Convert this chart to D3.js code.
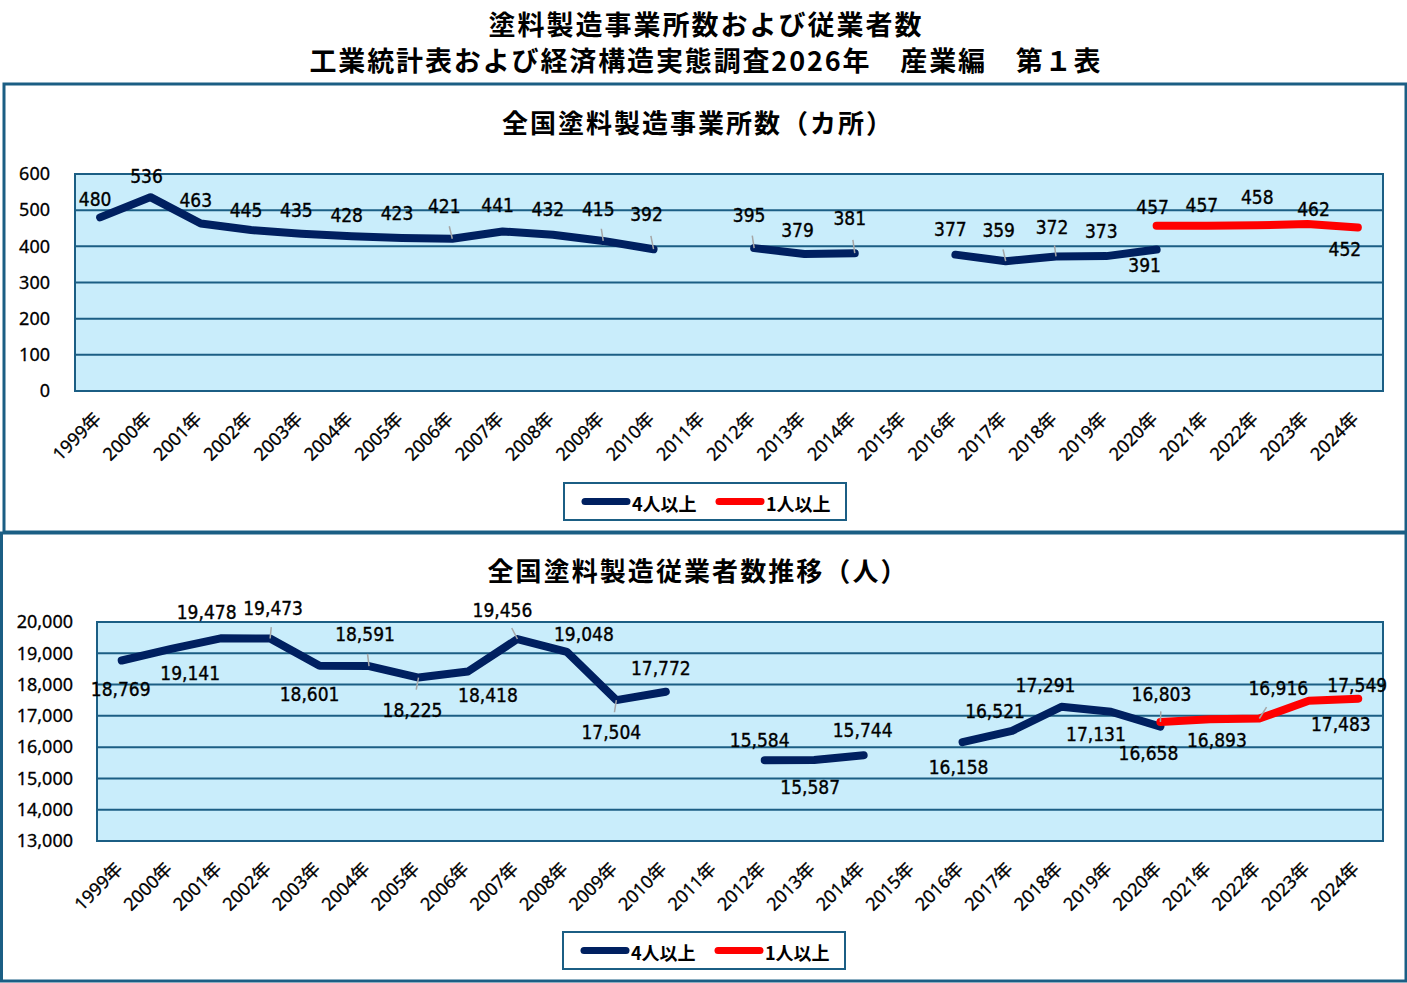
<!DOCTYPE html>
<html><head><meta charset="utf-8">
<script src="https://cdn.jsdelivr.net/npm/d3@7"></script>
<style>
body{margin:0;background:#fff;}
svg{display:block;}
.lbl{font-family:"Liberation Sans Narrow","Arial Narrow","DejaVu Sans Condensed",sans-serif;font-size:19px;fill:#000;stroke:#000;stroke-width:0.35px;}
.tick{font-family:"Noto Sans","Noto Sans CJK JP",sans-serif;fill:#000;}
.ttl{font-family:"Noto Sans CJK JP",sans-serif;font-weight:700;fill:#000;}
</style></head>
<body><svg id="c" width="1407" height="983"></svg>
<script>
// ---- data ----
const years = ["1999年","2000年","2001年","2002年","2003年","2004年","2005年","2006年","2007年","2008年","2009年","2010年","2011年","2012年","2013年","2014年","2015年","2016年","2017年","2018年","2019年","2020年","2021年","2022年","2023年","2024年"];
const seriesNames = ["4人以上","1人以上"];
const estab4 = [480,536,463,445,435,428,423,421,441,432,415,392,null,395,379,381,null,377,359,372,373,391,null,null,null,null];
const estab1 = [null,null,null,null,null,null,null,null,null,null,null,null,null,null,null,null,null,null,null,null,null,457,457,458,462,452];
const emp4 = [18769,19141,19478,19473,18601,18591,18225,18418,19456,19048,17504,17772,null,15584,15587,15744,null,16158,16521,17291,17131,16658,null,null,null,null];
const emp1 = [null,null,null,null,null,null,null,null,null,null,null,null,null,null,null,null,null,null,null,null,null,16803,16893,16916,17483,17549];
const estabTicks = [0,100,200,300,400,500,600];
const empTicks = [13000,14000,15000,16000,17000,18000,19000,20000];

// label placement (dx, dy from point, leader line flag)
const estab4Lbl = [[-5,-18],[-4,-21],[-5,-24],[-5,-20],[-5,-24],[-5,-21],[-5,-25],[-8,-33,1],[-5,-27],[-5,-26],[-5,-32,1],[-7,-35,1],null,[-5,-33,1],[-7,-24],[-5,-35,1],null,[-5,-26],[-7,-31,1],[-4,-29,1],[-5,-25],[-12,15]];
const estab1Lbl = {21:[-4,-19],22:[-5,-21],23:[0,-28],24:[6,-15],25:[-13,21]};
const emp4Lbl = [[-1,28],[19,24],[-14,-26],[3,-30,1],[-10,28],[-4,-32,1],[-6,32,1],[20,24],[-15,-29,1],[17,-18],[-5,32,1],[-5,-24],null,[-5,-20],[-4,27],[-1,-25],null,[-4,25],[-17,-20],[-16,-22],[-15,22],[-12,26]];
const emp1Lbl = {21:[1,-28,1],22:[7,21],23:[19,-30,1],24:[32,23],25:[-1,-14]};

const colors = ["#002060","#FF0000"];
const frameColor = "#1B5E84";

const svg = d3.select("#c");

// main title
svg.append("text").attr("class","ttl").attr("x",705).attr("y",35).attr("text-anchor","middle")
  .attr("font-size",27).attr("textLength",433).attr("lengthAdjust","spacing")
  .text("塗料製造事業所数および従業者数");
svg.append("text").attr("class","ttl").attr("x",705).attr("y",71).attr("text-anchor","middle")
  .attr("font-size",27).attr("textLength",791).attr("lengthAdjust","spacing")
  .text("工業統計表および経済構造実態調査2026年　産業編　第１表");

function drawChart(o){
  const g = svg.append("g");
  // frame
  g.append("rect").attr("x",o.frame[0]).attr("y",o.frame[1]).attr("width",o.frame[2]).attr("height",o.frame[3])
    .attr("fill","#fff").attr("stroke",frameColor).attr("stroke-width",3);
  g.append("text").attr("class","ttl").attr("x",697).attr("y",o.titleY).attr("text-anchor","middle")
    .attr("font-size",26).attr("textLength",o.titleLen).attr("lengthAdjust","spacing").text(o.title);

  const x = d3.scaleBand().domain(years).range([o.left,o.right]);
  const y = d3.scaleLinear().domain(o.domain).range([o.bottom,o.top]);
  const cx = d => x(d) + x.bandwidth()/2;

  g.append("rect").attr("x",o.left).attr("y",o.top).attr("width",o.right-o.left).attr("height",o.bottom-o.top)
    .attr("fill","#C9EDFB");
  // grid
  g.selectAll(".grid").data(o.ticks).join("line")
    .attr("x1",o.left).attr("x2",o.right).attr("y1",d=>y(d)).attr("y2",d=>y(d))
    .attr("stroke",frameColor).attr("stroke-width",2);
  g.append("rect").attr("x",o.left).attr("y",o.top).attr("width",o.right-o.left).attr("height",o.bottom-o.top)
    .attr("fill","none").attr("stroke",frameColor).attr("stroke-width",2);

  // y axis labels
  const ya = d3.axisLeft(y).tickValues(o.ticks).tickSize(0).tickPadding(o.tickPad).tickFormat(o.fmt);
  const yg = g.append("g").attr("transform",`translate(${o.left},0)`).call(ya);
  yg.select(".domain").remove();
  yg.selectAll("text").attr("class","tick").attr("font-size",18).attr("fill","#000")
    .attr("stroke","#000").attr("stroke-width",0.3);

  // x axis labels
  const xa = d3.axisBottom(x).tickSize(0).tickPadding(0);
  const xg = g.append("g").attr("transform",`translate(0,${o.bottom})`).call(xa);
  xg.select(".domain").remove();
  xg.selectAll("text").attr("class","tick").attr("font-size",18).attr("fill","#000")
    .attr("stroke","#000").attr("stroke-width",0.3)
    .attr("text-anchor","end").attr("dy",0).attr("y",0)
    .attr("transform","translate(2,29) rotate(-45)");

  // lines
  const line = d3.line().defined(d=>d.v!=null).x(d=>cx(d.k)).y(d=>y(d.v)).curve(d3.curveLinear);
  o.series.forEach((s,si)=>{
    const pts = years.map((k,i)=>({k,v:s[i]}));
    g.append("path").datum(pts).attr("d",line).attr("fill","none")
      .attr("stroke",colors[si]).attr("stroke-width",8).attr("stroke-linejoin","round").attr("stroke-linecap","round");
  });
  // labels
  o.series.forEach((s,si)=>{
    const lp = o.labels[si];
    years.forEach((k,i)=>{
      const v = s[i]; if(v==null) return;
      const p = lp[i]; if(!p) return;
      const px = cx(k), py = y(v);
      const lx = px + p[0], ly = py + p[1];
      if(p[2]){
        const sx = lx + 0.62*(px-lx), sy = ly + 0.62*(py-ly);
        g.append("line").attr("x1",sx).attr("y1",sy).attr("x2",px).attr("y2",py)
          .attr("stroke","#A6A6A6").attr("stroke-width",1.5);
      }
      g.append("text").attr("class","lbl").attr("x",lx).attr("y",ly).attr("text-anchor","middle")
        .attr("dominant-baseline","central").text(o.fmt(v));
    });
  });

  // legend
  const L = g.append("g");
  L.append("rect").attr("x",o.legend[0]).attr("y",o.legend[1]).attr("width",282).attr("height",37)
    .attr("fill","#fff").attr("stroke",frameColor).attr("stroke-width",2);
  seriesNames.forEach((n,i)=>{
    const lx = o.legend[0] + 21 + i*134, ly = o.legend[1] + 18.5;
    L.append("line").attr("x1",lx).attr("x2",lx+42).attr("y1",ly).attr("y2",ly)
      .attr("stroke",colors[i]).attr("stroke-width",7).attr("stroke-linecap","round");
    L.append("text").attr("class","ttl").attr("font-size",18).attr("x",lx+47).attr("y",ly+1)
      .attr("dominant-baseline","central").attr("font-weight",500).text(n);
  });
}

drawChart({frame:[4,84,1402,448], title:"全国塗料製造事業所数（カ所）", titleY:133, titleLen:390,
  left:75, right:1383, top:174, bottom:391, domain:[0,600], ticks:estabTicks, fmt:d3.format("d"), tickPad:25,
  series:[estab4,estab1], labels:[estab4Lbl, estab1Lbl], legend:[564,483]});
drawChart({frame:[1.5,533,1404.5,448], title:"全国塗料製造従業者数推移（人）", titleY:581, titleLen:419,
  left:97, right:1383, top:622, bottom:841, domain:[13000,20000], ticks:empTicks, fmt:d3.format(","), tickPad:24,
  series:[emp4,emp1], labels:[emp4Lbl, emp1Lbl], legend:[563,932]});
</script></body></html>
